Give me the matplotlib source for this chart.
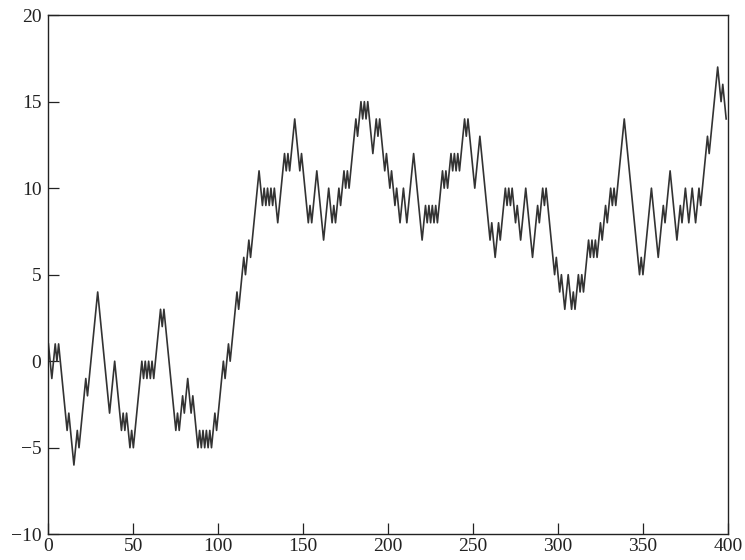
"""
Random walk (400 Schritte), nachgezeichnet aus der Vorlage.
Die Kurve wird durch ihre Umkehrpunkte (Schritt, Position) beschrieben.
"""
import matplotlib
matplotlib.use("Agg")
import matplotlib.pyplot as plt

# Umkehrpunkte der Irrfahrt (Schritt, Position)
steps = [
    0, 2, 4, 5, 6, 11, 12, 15, 17, 18, 22, 23, 29, 36, 39, 43, 44, 45, 46, 48,
    49, 50, 55, 56, 57, 58, 59, 60, 61, 62, 63, 66, 67, 68, 75, 76, 77, 79, 80,
    82, 84, 85, 88, 89, 90, 91, 92, 93, 94, 95, 96, 97, 98, 99, 103, 104, 106,
    107, 111, 112, 115, 116, 118, 119, 124, 126, 127, 128, 129, 130, 131, 132,
    133, 135, 139, 140, 141, 142, 145, 148, 149, 153, 154, 155, 158, 162, 165,
    167, 168, 169, 171, 172, 174, 175, 176, 177, 181, 182, 184, 185, 186, 187,
    188, 191, 193, 194, 195, 198, 199, 201, 202, 204, 205, 207, 209, 211, 215,
    220, 222, 223, 224, 225, 226, 227, 228, 229, 230, 232, 233, 234, 235, 237,
    238, 239, 240, 241, 242, 245, 246, 247, 251, 254, 260, 261, 263, 265, 266,
    269, 270, 271, 272, 273, 275, 276, 278, 281, 285, 288, 289, 291, 292, 293,
    298, 299, 301, 302, 304, 306, 308, 309, 310, 312, 313, 314, 315, 318, 319,
    320, 321, 322, 323, 325, 326, 328, 329, 331, 332, 333, 334, 339, 348, 349,
    350, 355, 359, 362, 363, 366, 370, 372, 373, 375, 377, 379, 381, 383, 384,
    388, 389, 394, 396, 397, 399,
]
position = [
    1, -1, 1, 0, 1, -4, -3, -6, -4, -5, -1, -2, 4, -3, 0, -4, -3, -4, -3, -5,
    -4, -5, 0, -1, 0, -1, 0, -1, 0, -1, 0, 3, 2, 3, -4, -3, -4, -2, -3,
    -1, -3, -2, -5, -4, -5, -4, -5, -4, -5, -4, -5, -4, -3, -4, 0, -1, 1,
    0, 4, 3, 6, 5, 7, 6, 11, 9, 10, 9, 10, 9, 10, 9,
    10, 8, 12, 11, 12, 11, 14, 11, 12, 8, 9, 8, 11, 7, 10,
    8, 9, 8, 10, 9, 11, 10, 11, 10, 14, 13, 15, 14, 15, 14,
    15, 12, 14, 13, 14, 11, 12, 10, 11, 9, 10, 8, 10, 8, 12,
    7, 9, 8, 9, 8, 9, 8, 9, 8, 9, 11, 10, 11, 10, 12,
    11, 12, 11, 12, 11, 14, 13, 14, 10, 13, 7, 8, 6, 8, 7,
    10, 9, 10, 9, 10, 8, 9, 7, 10, 6, 9, 8, 10, 9, 10,
    5, 6, 4, 5, 3, 5, 3, 4, 3, 5, 4, 5, 4, 7, 6,
    7, 6, 7, 6, 8, 7, 9, 8, 10, 9, 10, 9, 14, 5, 6,
    5, 10, 6, 9, 8, 11, 7, 9, 8, 10, 8, 10, 8, 10, 9,
    13, 12, 17, 15, 16, 14,
]

x_ticks = [0, 50, 100, 150, 200, 250, 300, 350, 400]
y_ticks = [-10, -5, 0, 5, 10, 15, 20]

plt.rcParams["font.family"] = ["Liberation Serif", "DejaVu Serif"]

fig = plt.figure(figsize=(7.45, 5.6), dpi=100)
ax = fig.add_axes([0.065, 0.046, 0.912, 0.927])

ax.plot(steps, position, color="#333333", linewidth=1.2)

ax.set_xlim(0, 400)
ax.set_ylim(-10, 20)
ax.set_xticks(x_ticks)
ax.set_yticks(y_ticks)
ax.tick_params(direction="in", length=8, width=0.9, labelsize=14,
               top=False, right=False, colors="#222222")
ax.tick_params(axis="x", pad=3)
ax.tick_params(axis="y", pad=5)
for s in ax.spines.values():
    s.set_linewidth(1.0)
    s.set_color("#222222")

fig.savefig("out.png", dpi=100)
